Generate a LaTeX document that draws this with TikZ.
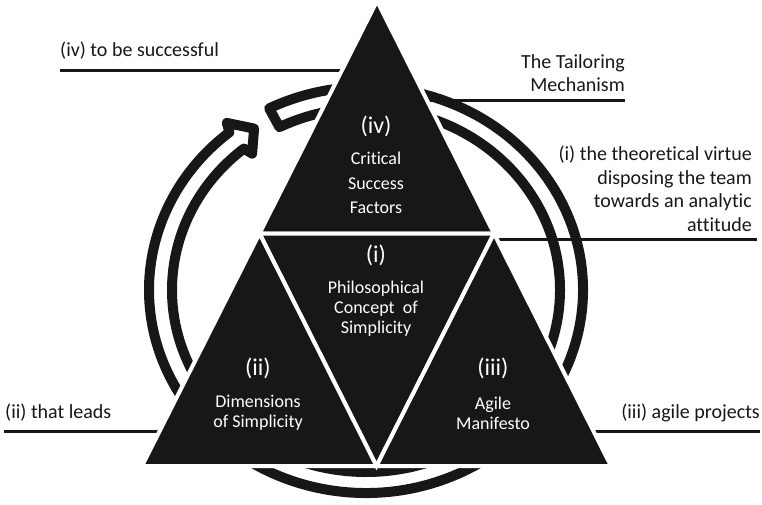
\documentclass[tikz,border=0pt]{standalone}
\usepackage{fontspec}
\setmainfont{Carlito}[Ligatures=NoCommon]
\usetikzlibrary{calc}
\definecolor{ink}{HTML}{171717}
\begin{document}
\begin{tikzpicture}[x=1pt,y=1pt,
  band/.style={draw=ink, fill=white, line width=10pt, line join=round},
  rule/.style={draw=ink, line width=3pt},
  wedge/.style={fill=ink, draw=white, line width=4pt, line join=miter},
  sidetext/.style={font=\fontsize{20}{23.5}\selectfont, text=ink, inner sep=0pt},
  numeral/.style={font=\fontsize{24}{28}\selectfont, text=white, inner sep=0pt},
  caption/.style={font=\fontsize{18}{20}\selectfont, text=white, inner sep=0pt, align=center},
]
\useasboundingbox (0,0) rectangle (762,-505);

% ring centre and corners of the big triangle
\coordinate (C) at (366,-290);
\coordinate (A) at (377,-1);
\coordinate (BL) at (142,-466);
\coordinate (BR) at (611,-466);
\coordinate (ML) at ($(A)!0.5!(BL)$);
\coordinate (MR) at ($(A)!0.5!(BR)$);
\coordinate (MB) at ($(BL)!0.5!(BR)$);

% circular arrow running clockwise, head just behind its tail
\draw[band] ($(C)+(116.5:217pt and 203pt)$)
  arc[start angle=116.5, end angle=-231, x radius=217pt, y radius=203pt]
  -- ($(C)+(-232:226pt and 212pt)$)
  -- ($(C)+(-237:205.5pt and 192.5pt)$)
  -- ($(C)+(-232:185pt and 173pt)$)
  -- ($(C)+(-231:194pt and 182pt)$)
  arc[start angle=-231, end angle=116.5, x radius=194pt, y radius=182pt]
  -- cycle;

% side labels with their rules (base of a multi-line node = its last line)
\node[sidetext, anchor=base west] (succ) at (60,-57) {(iv) to be successful};
\coordinate (succA) at (60,-71);
\coordinate (succB) at (345,-71);
\draw[rule] (succA) -- (succB);

\node[sidetext, anchor=base east, align=right] (tailor) at (625,-92) {The Tailoring\\Mechanism};
\coordinate (tailorA) at (415,-101);
\coordinate (tailorB) at (625,-101);
\draw[rule] (tailorA) -- (tailorB);

\node[sidetext, anchor=base east, align=right] (virtue) at (752,-231)
  {(i) the theoretical virtue\\disposing the team\\towards an analytic\\attitude};
\coordinate (virtueA) at (490,-239);
\coordinate (virtueB) at (757,-239);
\draw[rule] (virtueA) -- (virtueB);

\node[sidetext, anchor=base west] (leads) at (5,-418) {(ii) that leads};
\coordinate (leadsA) at (4,-431);
\coordinate (leadsB) at (170,-431);
\draw[rule] (leadsA) -- (leadsB);

\node[sidetext, anchor=base east] (agile) at (760,-418) {(iii) agile projects};
\coordinate (agileA) at (590,-431);
\coordinate (agileB) at (760,-431);
\draw[rule] (agileA) -- (agileB);

% the four triangles
\draw[wedge] (A) -- (ML) -- (MR) -- cycle;
\draw[wedge] (ML) -- (MR) -- (MB) -- cycle;
\draw[wedge] (ML) -- (BL) -- (MB) -- cycle;
\draw[wedge] (MR) -- (MB) -- (BR) -- cycle;

% texts inside the triangles
\node[numeral] (n4) at (376,-126) {(iv)};
\node[caption, font=\fontsize{18}{24.5}\selectfont] (t4) at (376,-183) {Critical\\Success\\Factors};
\node[numeral] (n1) at (376,-255) {(i)};
\node[caption] (t1) at (376,-309) {Philosophical\\Concept\ \ of\\Simplicity};
\node[numeral] (n2) at (258,-368) {(ii)};
\node[caption] (t2) at (258,-413) {Dimensions\\of Simplicity};
\node[numeral] (n3) at (493,-368) {(iii)};
\node[caption] (t3) at (493,-413) {Agile\\Manifesto};
\end{tikzpicture}
\end{document}
